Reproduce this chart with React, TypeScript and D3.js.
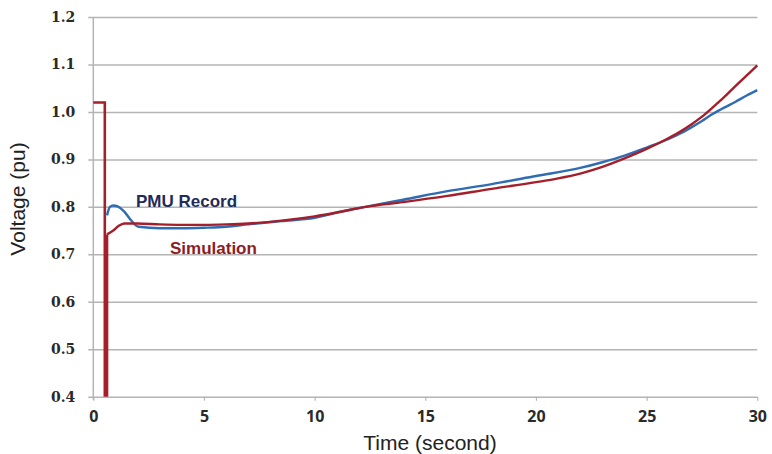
import React from 'react';
import * as d3 from 'd3';

// pre-fault step and the dip at the fault (simulation)
const stepTime = [0, 0.52, 0.52, 0.62, 0.62];
const stepVolt = [1.02, 1.02, 0.38, 0.38, 0.742];

const simTime = [0.62, 0.9, 1.15, 1.4, 2, 3, 4, 5, 6, 7, 8.5, 10, 11, 12.3, 14, 16, 18, 20, 21, 22, 23, 24, 25, 26, 26.5, 27, 27.5, 28, 28.5, 29, 29.5, 30];
const simVolt = [0.742, 0.75, 0.76, 0.765, 0.765, 0.763, 0.762, 0.762, 0.763, 0.765, 0.771, 0.78, 0.788, 0.8, 0.81, 0.823, 0.838, 0.852, 0.86, 0.87, 0.884, 0.902, 0.922, 0.945, 0.958, 0.973, 0.99, 1.01, 1.031, 1.054, 1.076, 1.098];

const pmuTime = [0.62, 0.75, 0.9, 1.1, 1.4, 1.7, 2.05, 3, 4, 5, 6, 7, 8.5, 10, 11, 12.3, 14, 16, 18, 20, 22, 23, 24, 25, 26, 26.5, 27, 27.5, 28, 28.5, 29, 29.5, 30];
const pmuVolt = [0.782, 0.8, 0.803, 0.801, 0.79, 0.772, 0.758, 0.755, 0.755, 0.756, 0.758, 0.763, 0.77, 0.777, 0.788, 0.8, 0.815, 0.833, 0.848, 0.865, 0.882, 0.894, 0.908, 0.925, 0.943, 0.954, 0.967, 0.981, 0.996, 1.009, 1.021, 1.034, 1.046];

const xTicks = [0, 5, 10, 15, 20, 25, 30];
const yTicks = [0.4, 0.5, 0.6, 0.7, 0.8, 0.9, 1.0, 1.1, 1.2];

const W = 772;
const H = 454;
const margin = { top: 17, right: 14.7, bottom: 57.3, left: 93.3 };
const RED = '#a51f2b';
const BLUE = '#2f6cb2';
const GRID = '#b4b4b4';

export default function App() {
	const ref = React.useRef<SVGSVGElement>(null);

	React.useEffect(() => {
		const svg = d3.select(ref.current);
		svg.selectAll('*').remove();

		const x = d3.scaleLinear().domain([0, 30]).range([margin.left, W - margin.right]);
		const y = d3.scaleLinear().domain([0.4, 1.2]).range([H - margin.bottom, margin.top]);

		svg.append('defs').append('clipPath').attr('id', 'plot')
			.append('rect')
			.attr('x', margin.left - 10).attr('y', margin.top)
			.attr('width', W - margin.left - margin.right + 20)
			.attr('height', H - margin.top - margin.bottom);

		// gridlines + y labels
		const yAxis = d3.axisLeft(y)
			.tickValues(yTicks)
			.tickFormat(d3.format('.1f'))
			.tickSize(-(W - margin.left - margin.right + 5))
			.tickPadding(13);
		const gy = svg.append('g')
			.attr('transform', `translate(${margin.left - 5},0)`)
			.call(yAxis);
		gy.select('.domain').remove();
		gy.selectAll('.tick line').attr('stroke', GRID).attr('stroke-width', 1.5);
		gy.selectAll('.tick text')
			.attr('fill', '#2a2a2a')
			.style('font-family', '"DejaVu Serif", serif')
			.style('font-weight', 'bold')
			.style('font-size', '14px');

		// vertical axis line
		svg.append('line')
			.attr('x1', margin.left).attr('x2', margin.left)
			.attr('y1', margin.top).attr('y2', H - margin.bottom + 3)
			.attr('stroke', GRID).attr('stroke-width', 1.5);

		// x axis
		const xAxis = d3.axisBottom(x).tickValues(xTicks).tickSize(4).tickPadding(10);
		const gx = svg.append('g')
			.attr('transform', `translate(0,${H - margin.bottom})`)
			.call(xAxis);
		gx.select('.domain').remove();
		gx.selectAll('.tick line').attr('stroke', GRID).attr('stroke-width', 1.2);
		gx.selectAll('.tick text')
			.attr('fill', '#2a2a2a')
			.style('font-family', '"Open Sans", sans-serif')
			.style('font-weight', 'bold')
			.style('font-size', '16px');

		const plot = svg.append('g').attr('clip-path', 'url(#plot)');

		const lineLin = d3.line<number>()
			.x((d) => x(stepTime[d]))
			.y((d) => y(stepVolt[d]));
		plot.append('path')
			.attr('d', lineLin(d3.range(stepTime.length)))
			.attr('fill', 'none').attr('stroke', RED).attr('stroke-width', 2.6)
			.attr('stroke-linejoin', 'miter');

		const pmuLine = d3.line<number>()
			.x((d) => x(pmuTime[d]))
			.y((d) => y(pmuVolt[d]))
			.curve(d3.curveMonotoneX);
		plot.append('path')
			.attr('d', pmuLine(d3.range(pmuTime.length)))
			.attr('fill', 'none').attr('stroke', BLUE).attr('stroke-width', 2.4);

		const simLine = d3.line<number>()
			.x((d) => x(simTime[d]))
			.y((d) => y(simVolt[d]))
			.curve(d3.curveMonotoneX);
		plot.append('path')
			.attr('d', simLine(d3.range(simTime.length)))
			.attr('fill', 'none').attr('stroke', RED).attr('stroke-width', 2.4);

		// series labels
		svg.append('text')
			.attr('x', 136).attr('y', 207)
			.attr('fill', '#1f2b5a')
			.style('font-family', '"Liberation Sans", Arial, sans-serif')
			.style('font-weight', 'bold').style('font-size', '17px')
			.text('PMU Record');
		svg.append('text')
			.attr('x', 170).attr('y', 254)
			.attr('fill', '#8e1c22')
			.style('font-family', '"Liberation Sans", Arial, sans-serif')
			.style('font-weight', 'bold').style('font-size', '17px')
			.text('Simulation');

		// axis titles
		svg.append('text')
			.attr('x', 430).attr('y', 450)
			.attr('text-anchor', 'middle')
			.attr('fill', '#222')
			.style('font-family', '"Liberation Sans", Arial, sans-serif')
			.style('font-size', '21px')
			.text('Time (second)');
		svg.append('text')
			.attr('transform', 'translate(25,199) rotate(-90)')
			.attr('text-anchor', 'middle')
			.attr('fill', '#222')
			.style('font-family', '"Liberation Sans", Arial, sans-serif')
			.style('font-size', '21px')
			.text('Voltage (pu)');
	}, []);

	return (
		<svg
			ref={ref}
			width={W}
			height={H}
			style={{ position: 'absolute', left: 0, top: 0, background: '#fff' }}
		/>
	);
}
